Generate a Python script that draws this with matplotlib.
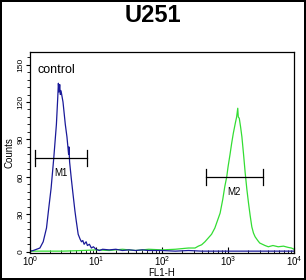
import numpy as np
import matplotlib
matplotlib.use('Agg')
import matplotlib.pyplot as plt
from matplotlib.ticker import MultipleLocator, LogLocator, NullFormatter

plt.rcParams['font.family'] = ['Liberation Sans', 'DejaVu Sans']

title = 'U251'
x_label = 'FL1-H'
y_label = 'Counts'
y_ticks = [0, 30, 60, 90, 120, 150]

# control histogram (blue), positions as log10(FL1-H)
blue_log = [0.00, 0.05, 0.10, 0.15, 0.20, 0.25, 0.28, 0.32, 0.36, 0.40, 0.42, 0.43, 0.44, 0.45,
            0.46, 0.47, 0.50, 0.535, 0.56, 0.585, 0.59, 0.60, 0.625, 0.65, 0.68, 0.70, 0.73,
            0.76, 0.78, 0.80, 0.82, 0.85, 0.87, 0.90, 0.93, 0.96, 1.00, 1.05, 1.10, 1.20,
            1.30, 1.40, 1.50, 1.60, 1.70, 1.80, 1.90, 2.00, 2.20, 2.40, 2.60, 2.80, 3.00,
            3.20, 3.50, 4.00]
blue_cnt = [0.5, 1, 2, 3, 8, 19, 33, 51, 75, 102, 123, 135, 128, 134,
            126, 129, 120, 102, 92, 78, 84, 72, 59, 47, 33, 25, 14,
            10, 8, 9, 6, 8, 5, 6, 3, 4, 2, 1, 2, 1.5,
            2, 1, 1.5, 1, 1.5, 1, 1, 1, 0.5, 1, 0.5, 0.5, 0.5,
            0.5, 0.5, 0.5]

# U251 sample histogram (green)
green_log = [0.00, 0.50, 0.80, 1.00, 1.20, 1.40, 1.60, 1.80, 2.00, 2.20, 2.30, 2.40, 2.50,
             2.55, 2.60, 2.65, 2.70, 2.75, 2.80, 2.84, 2.88, 2.92, 2.95, 2.98, 3.00, 3.03,
             3.055, 3.08, 3.11, 3.13, 3.147, 3.155, 3.17, 3.19, 3.21, 3.235, 3.26, 3.285,
             3.31, 3.335, 3.36, 3.385, 3.41, 3.45, 3.48, 3.52, 3.56, 3.61, 3.68, 3.76,
             3.84, 3.91, 3.96, 4.00]
green_cnt = [0.5, 0.5, 1, 1.5, 1, 2, 1, 2, 1.5, 2, 2.5, 3, 3,
             4.5, 5.6, 8, 11, 14, 19, 25, 31, 42, 52, 60, 68, 78,
             87, 95, 103, 108, 115, 108, 107, 100, 92, 78, 63, 50,
             39, 29, 20, 15, 12, 9, 7, 6, 5, 4, 5, 4,
             4.5, 3.5, 3, 2]

# gates: (low, high, level, label)
m1 = (10**0.07, 10**0.87, 75, 'M1')
m2 = (10**2.66, 10**3.526, 60, 'M2')

fig = plt.figure(figsize=(3.06, 2.80), dpi=100)
fig.patch.set_edgecolor('black')
fig.patch.set_linewidth(1.5)
ax = fig.add_axes([0.098, 0.0964, 0.863, 0.7176])

ax.plot(10**np.array(green_log), green_cnt, color='#33dd33', lw=0.9)
ax.plot(10**np.array(blue_log), blue_cnt, color='#1a1a99', lw=0.9)

for lo, hi, lvl, lab in [m1, m2]:
    ax.plot([lo, hi], [lvl, lvl], color='black', lw=0.9)
    ax.plot([lo, lo], [lvl - 6.5, lvl + 6.5], color='black', lw=0.9)
    ax.plot([hi, hi], [lvl - 6.5, lvl + 6.5], color='black', lw=0.9)
    ax.text(np.sqrt(lo * hi), lvl - 8, lab, ha='center', va='top', fontsize=7)

ax.text(0.03, 0.94, 'control', transform=ax.transAxes, fontsize=9, va='top')

ax.set_xscale('log')
ax.set_xlim(1, 10000)
ax.set_ylim(-1, 160)
ax.set_yticks(y_ticks)
ax.yaxis.set_minor_locator(MultipleLocator(6))
ax.xaxis.set_major_locator(LogLocator(base=10))
ax.xaxis.set_minor_locator(LogLocator(base=10, subs=np.arange(2, 10)))
ax.xaxis.set_minor_formatter(NullFormatter())
ax.tick_params(axis='y', which='major', direction='out', length=3, labelsize=6, pad=1)
ax.tick_params(axis='y', which='minor', direction='out', length=2)
ax.tick_params(axis='x', which='major', direction='in', length=4, labelsize=7, pad=1)
ax.tick_params(axis='x', which='minor', direction='in', length=2.5)
for lbl in ax.get_yticklabels():
    lbl.set_rotation(90)
    lbl.set_va('center')
for s in ax.spines.values():
    s.set_linewidth(0.9)

ax.set_xlabel(x_label, fontsize=7, labelpad=0)
ax.set_ylabel(y_label, fontsize=7, labelpad=2)
fig.text(0.5, 0.945, title, ha='center', va='center', fontsize=17, fontweight='bold')

fig.savefig('out.png', dpi=100, edgecolor=fig.get_edgecolor())
